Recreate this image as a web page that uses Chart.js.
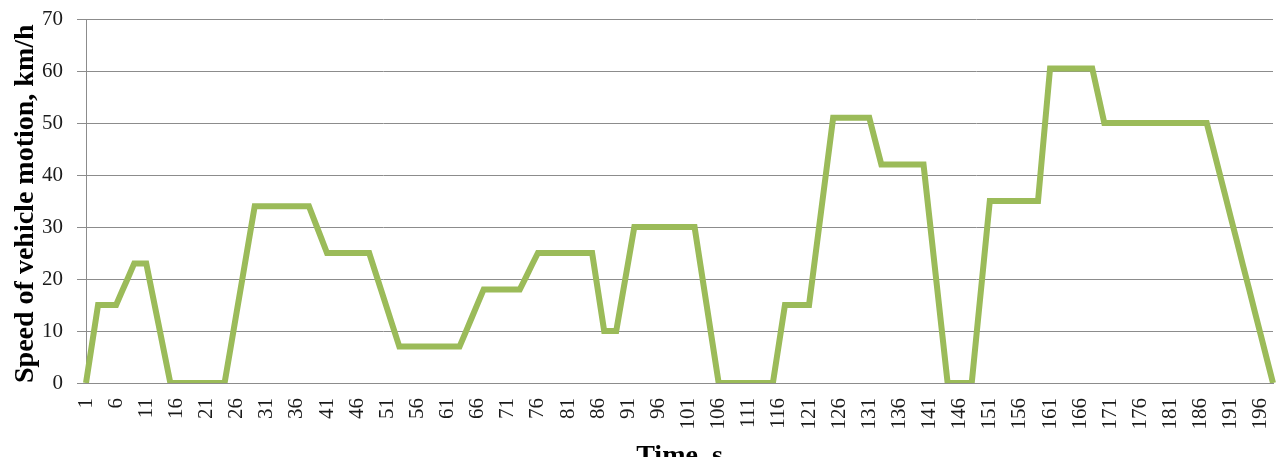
<!DOCTYPE html>
<html>
<head>
<meta charset="utf-8">
<script src="https://cdn.jsdelivr.net/npm/chart.js@4.4.1/dist/chart.umd.min.js"></script>
<style>
  html, body { margin: 0; padding: 0; background: #fff; overflow: hidden; }
  #wrap { width: 1279px; height: 474px; position: relative; }
</style>
</head>
<body>
<div id="wrap"><canvas id="speedChart"></canvas></div>
<script>
// Time axis: one category per second, 1..198
const timeLabels = Array.from({ length: 198 }, (_, i) => String(i + 1));

// Speed, km/h (one value per second)
const speed = [
  0, 7.5, 15, 15, 15, 15, 17.7, 20.3, 23, 23,            // 1-10
  23, 17.25, 11.5, 5.75, 0, 0, 0, 0, 0, 0,               // 11-20
  0, 0, 0, 0, 6.8, 13.6, 20.4, 27.2, 34, 34,             // 21-30
  34, 34, 34, 34, 34, 34, 34, 34, 31, 28,                // 31-40
  25, 25, 25, 25, 25, 25, 25, 25, 21.4, 17.8,            // 41-50
  14.2, 10.6, 7, 7, 7, 7, 7, 7, 7, 7,                    // 51-60
  7, 7, 7, 9.75, 12.5, 15.25, 18, 18, 18, 18,            // 61-70
  18, 18, 18, 20.3, 22.7, 25, 25, 25, 25, 25,            // 71-80
  25, 25, 25, 25, 25, 17.5, 10, 10, 10, 16.7,            // 81-90
  23.3, 30, 30, 30, 30, 30, 30, 30, 30, 30,              // 91-100
  30, 30, 22.5, 15, 7.5, 0, 0, 0, 0, 0,                  // 101-110
  0, 0, 0, 0, 0, 7.5, 15, 15, 15, 15,                    // 111-120
  15, 24, 33, 42, 51, 51, 51, 51, 51, 51,                // 121-130
  51, 46.5, 42, 42, 42, 42, 42, 42, 42, 42,              // 131-140
  31.5, 21, 10.5, 0, 0, 0, 0, 0, 11.7, 23.3,             // 141-150
  35, 35, 35, 35, 35, 35, 35, 35, 35, 47.75,             // 151-160
  60.5, 60.5, 60.5, 60.5, 60.5, 60.5, 60.5, 60.5, 55.25, 50, // 161-170
  50, 50, 50, 50, 50, 50, 50, 50, 50, 50,                // 171-180
  50, 50, 50, 50, 50, 50, 50, 45.5, 40.9, 36.4,          // 181-190
  31.8, 27.3, 22.7, 18.2, 13.6, 9.1, 4.5, 0              // 191-198
];

// Y tick values
const yTicks = [0, 10, 20, 30, 40, 50, 60, 70];

const serif = '"Liberation Serif", "Times New Roman", serif';
const gridGray = '#8c8c8c';

const ctx = document.getElementById('speedChart').getContext('2d');
new Chart(ctx, {
  type: 'line',
  data: {
    labels: timeLabels,
    datasets: [{
      label: 'Speed',
      data: speed,
      borderColor: '#9BBB59',
      borderWidth: 6,
      pointRadius: 0,
      tension: 0,
      fill: false
    }]
  },
  options: {
    responsive: true,
    maintainAspectRatio: false,
    animation: false,
    layout: {
      padding: { top: 19, right: 6, left: 5, bottom: 0 }
    },
    scales: {
      x: {
        offset: false,
        grid: { display: false, drawTicks: false },
        border: { display: true, color: gridGray, width: 1 },
        ticks: {
          autoSkip: false,
          minRotation: 90,
          maxRotation: 90,
          padding: 15,
          color: '#1a1a1a',
          font: { family: serif, size: 21 },
          // show every fifth second: 1, 6, 11, ...
          callback: function(value, index) {
            return index % 5 === 0 ? timeLabels[index] : '';
          }
        },
        title: {
          display: true,
          text: 'Time, s',
          color: '#000',
          font: { family: serif, size: 28, weight: 'bold' },
          padding: { top: 0, bottom: 0 }
        },
        // pin the axis box so the plot reaches the edges like the original
        afterFit: function(scale) {
          scale.paddingLeft = 0;
          scale.paddingRight = 0;
          scale.height = 91;
        }
      },
      y: {
        min: yTicks[0],
        max: yTicks[yTicks.length - 1],
        grid: { color: gridGray, lineWidth: 1, tickLength: 9 },
        border: { display: true, color: gridGray, width: 1 },
        ticks: {
          stepSize: 10,
          padding: 14,
          color: '#1a1a1a',
          font: { family: serif, size: 21 }
        },
        title: {
          display: true,
          text: 'Speed of vehicle motion, km/h',
          align: 'start',
          color: '#000',
          font: { family: serif, size: 28, weight: 'bold' },
          padding: { top: 4, bottom: 4 }
        },
        afterFit: function(scale) {
          scale.paddingTop = 0;
          scale.paddingBottom = 0;
          scale.width = 81;
        }
      }
    },
    plugins: {
      legend: { display: false },
      tooltip: { enabled: false }
    }
  }
});
</script>
</body>
</html>
